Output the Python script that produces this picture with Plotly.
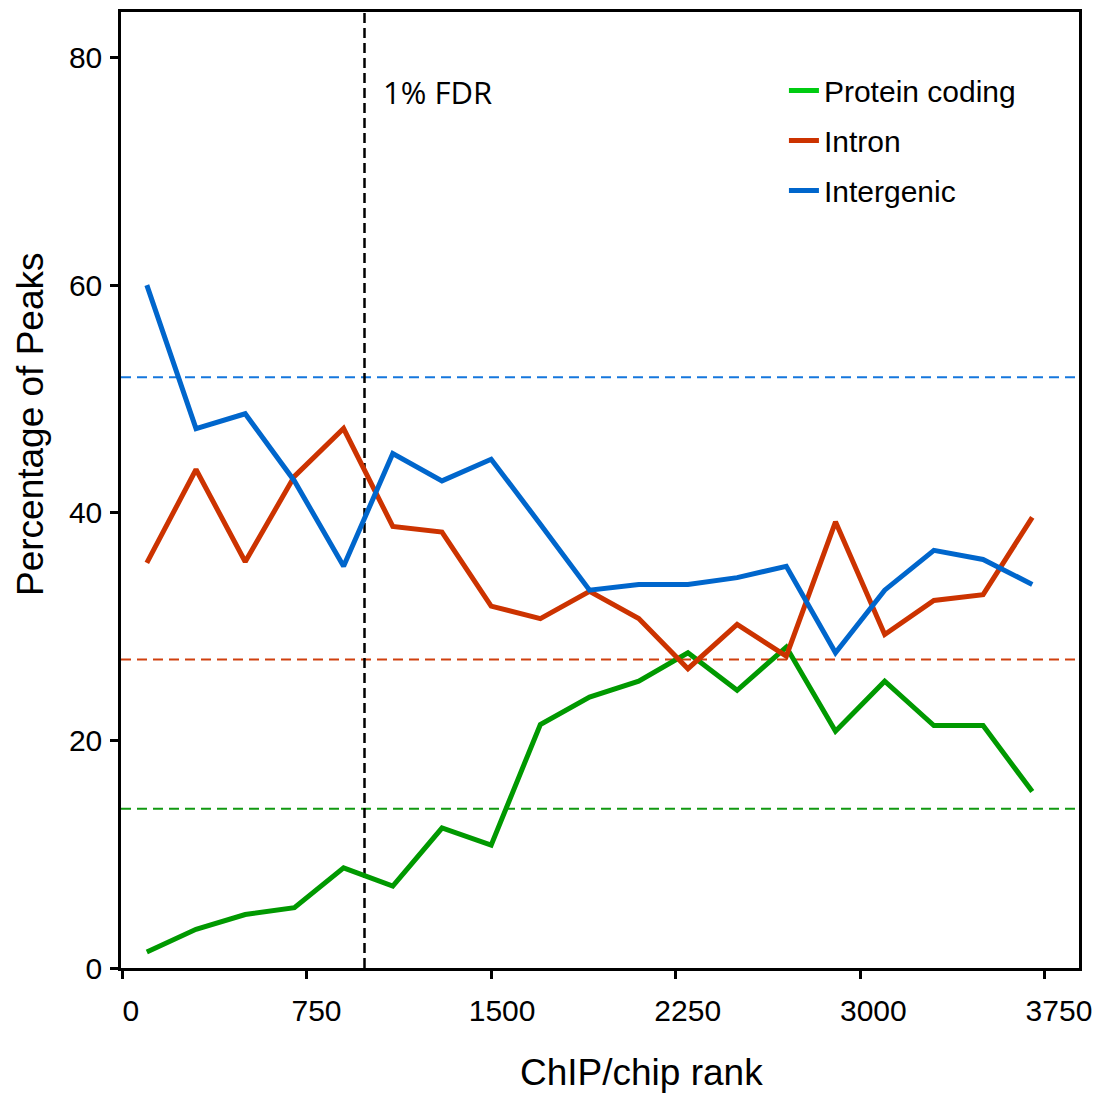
import plotly.graph_objects as go

# ---- data ----
ranks = [100, 300, 500, 700, 900, 1100, 1300, 1500, 1700, 1900,
         2100, 2300, 2500, 2700, 2900, 3100, 3300, 3500, 3700]
protein_coding = [1.4, 3.4, 4.7, 5.3, 8.8, 7.2, 12.3, 10.8, 21.4, 23.8,
                  25.2, 27.7, 24.4, 28.2, 20.8, 25.2, 21.3, 21.3, 15.5]
intron = [35.6, 43.8, 35.7, 43.2, 47.4, 38.8, 38.3, 31.8, 30.7, 33.1,
          30.7, 26.3, 30.2, 27.4, 39.2, 29.3, 32.3, 32.8, 39.6]
intergenic = [60.0, 47.4, 48.7, 42.8, 35.3, 45.2, 42.8, 44.7, 39.0, 33.2,
              33.7, 33.7, 34.3, 35.3, 27.7, 33.2, 36.7, 35.9, 33.7]
series_names = ["Protein coding", "Intron", "Intergenic"]
baselines = [14.0, 27.1, 51.9]   # genome-wide background percentages
fdr_rank = 985
fdr_label = "1% FDR"
x_ticks = [0, 750, 1500, 2250, 3000, 3750]
y_ticks = [0, 20, 40, 60, 80]

line_colors = ["#009900", "#CC3300", "#0066CC"]
legend_colors = ["#00CC11", "#CC3300", "#0066CC"]
dash_colors = ["#119911", "#D0400F", "#1577DD"]

FONT = "Liberation Sans, Arial, sans-serif"

fig = go.Figure()
for name, vals, col in zip(series_names, [protein_coding, intron, intergenic], line_colors):
    fig.add_trace(go.Scatter(x=ranks, y=vals, mode="lines", name=name,
                             line=dict(color=col, width=5), showlegend=False,
                             legendgroup=name))
# legend entries (the legend swatches use slightly different tones)
for name, col in zip(series_names, legend_colors):
    fig.add_trace(go.Scatter(x=[None], y=[None], mode="lines", name=name,
                             line=dict(color=col, width=5), legendgroup=name,
                             showlegend=True))
# helper trace so the tick-label axis (x2) is drawn
fig.add_trace(go.Scatter(x=x_ticks, y=[None] * len(x_ticks), xaxis="x2", mode="lines",
                         showlegend=False, hoverinfo="skip"))

for b, col in zip(baselines, dash_colors):
    fig.add_shape(type="line", xref="paper", yref="y", x0=0, x1=1, y0=b, y1=b,
                  line=dict(color=col, width=2, dash="10px,6px"), layer="below")
fig.add_shape(type="line", xref="x", yref="paper", x0=fdr_rank, x1=fdr_rank, y0=0, y1=1,
              line=dict(color="black", width=2.5, dash="10px,5px"), layer="below")

fig.add_annotation(x=fdr_rank, xref="x", y=0.916, yref="paper", text=fdr_label,
                   showarrow=False, xanchor="left", yanchor="middle", xshift=16,
                   font=dict(family="Open Sans, sans-serif", size=31, color="black"))
fig.add_annotation(x=0.543, xref="paper", y=-0.1095, yref="paper", text="ChIP/chip rank",
                   showarrow=False, xanchor="center", yanchor="middle",
                   font=dict(family=FONT, size=37, color="black"))
fig.add_annotation(x=-0.095, xref="paper", y=0.569, yref="paper", text="Percentage of Peaks",
                   showarrow=False, xanchor="center", yanchor="middle", textangle=-90,
                   font=dict(family=FONT, size=37, color="black"))

tickfont = dict(family=FONT, size=30, color="black")
axis_common = dict(showgrid=False, zeroline=False, showline=True, linecolor="black",
                   linewidth=2.5, mirror=True, ticks="outside", ticklen=8, tickwidth=2.5,
                   tickcolor="black", tickfont=tickfont)
fig.update_layout(
    xaxis=dict(range=[-5, 3890], tickvals=x_ticks, showticklabels=False, **axis_common),
    xaxis2=dict(overlaying="x", anchor="y", side="bottom", range=[-40, 3831],
                tickvals=x_ticks, ticktext=[str(t) for t in x_ticks], showline=False,
                showgrid=False, zeroline=False, ticks="", ticklabelstandoff=22,
                tickfont=tickfont),
    yaxis=dict(range=[0, 84], tickvals=y_ticks, ticktext=[str(t) for t in y_ticks],
               ticklabelstandoff=2, **axis_common),
)

fig.update_layout(
    width=1098, height=1089,
    margin=dict(l=113, r=27, t=1, b=129),
    plot_bgcolor="white", paper_bgcolor="white",
    font=dict(family=FONT, color="black"),
    legend=dict(x=0.692, y=0.945, xanchor="left", yanchor="top",
                font=dict(family=FONT, size=30, color="black"),
                bgcolor="rgba(0,0,0,0)", tracegroupgap=8, traceorder="grouped"),
)

fig.write_html("out.html")
